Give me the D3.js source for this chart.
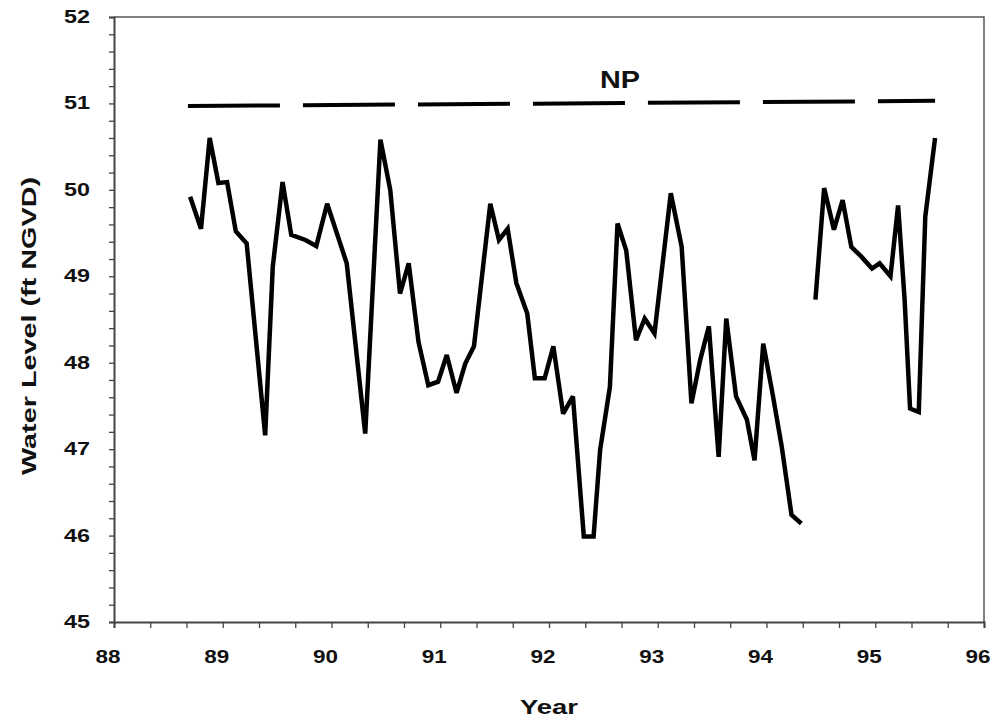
<!DOCTYPE html>
<html>
<head>
<meta charset="utf-8">
<script src="https://cdn.jsdelivr.net/npm/d3@7"></script>
<style>
  body { margin: 0; background: #fff; }
  text { font-family: "Liberation Sans", Arial, sans-serif; font-weight: bold; fill: #111; }
</style>
</head>
<body>
<div></div>
<script>
// decimal year (88 = 1988) and water level, null = gap in record
var years = [88.70, 88.80, 88.88, 88.96, 89.04, 89.12, 89.22, 89.39, 89.46, 89.55, 89.63, 89.76, 89.86, 89.96,
  90.14, 90.31, 90.45, 90.54, 90.63, 90.71, 90.80, 90.89, 90.98, 91.06, 91.15, 91.23, 91.31, 91.46, 91.54,
  91.62, 91.70, 91.80, 91.87, 91.96, 92.04, 92.13, 92.22, 92.32, 92.41, 92.47, 92.56, 92.63, 92.71, 92.80,
  92.88, 92.97, 93.12, 93.22, 93.31, 93.39, 93.47, 93.56, 93.63, 93.72, 93.82, 93.89, 93.97, 94.06, 94.14,
  94.23, 94.32, 94.38, 94.45, 94.53, 94.62, 94.70, 94.78, 94.87, 94.97, 95.04, 95.14, 95.21, 95.27, 95.32,
  95.40, 95.46, 95.55];
var levels = [49.92, 49.55, 50.60, 50.08, 50.09, 49.52, 49.38, 47.16, 49.11, 50.09, 49.48, 49.42, 49.35, 49.84,
  49.15, 47.18, 50.58, 50.00, 48.80, 49.15, 48.24, 47.74, 47.78, 48.09, 47.65, 47.99, 48.19, 49.84, 49.42,
  49.55, 48.92, 48.57, 47.82, 47.82, 48.19, 47.41, 47.61, 45.99, 45.99, 46.99, 47.72, 49.61, 49.30, 48.26,
  48.51, 48.34, 49.96, 49.34, 47.53, 48.03, 48.42, 46.91, 48.51, 47.61, 47.34, 46.87, 48.22, 47.61, 47.03,
  46.24, 46.14, null, 48.73, 50.02, 49.54, 49.88, 49.34, 49.23, 49.09, 49.15, 49.00, 49.82, 48.73, 47.47,
  47.43, 49.69, 50.60];

// NP reference line (start and end)
var npYears = [88.68, 95.55];
var npLevels = [50.97, 51.03];
var npLabel = "NP";

var xTicks = [88, 89, 90, 91, 92, 93, 94, 95, 96];
var yTicks = [45, 46, 47, 48, 49, 50, 51, 52];
var xTitle = "Year";
var yTitle = "Water Level (ft NGVD)";

var width = 1000, height = 726;
var margin = { top: 17, right: 16, bottom: 104, left: 114 };

var svg = d3.select("div").append("svg")
  .attr("width", width)
  .attr("height", height);

var x = d3.scaleLinear().domain([88, 96]).range([margin.left, width - margin.right]);
var y = d3.scaleLinear().domain([45, 52]).range([height - margin.bottom, margin.top]);

// frame (top and right)
svg.append("path")
  .attr("d", `M${x(88)},${y(52)}H${x(96)}V${y(45)}`)
  .attr("fill", "none")
  .attr("stroke", "#555")
  .attr("stroke-width", 1.5);

// x axis, minor ticks every 1/3 year
var xMinor = d3.range(0, 25).map((i) => 88 + i / 3);
var xAxis = svg.append("g")
  .attr("transform", `translate(0,${y(45)})`);
xAxis.call(d3.axisBottom(x).tickValues(xMinor).tickSize(6).tickFormat(""))
  .call((g) => g.select(".domain").attr("stroke", "#444").attr("stroke-width", 2));
xAxis.selectAll(".tick line").attr("stroke", "#444").attr("stroke-width", 1.3);
xAxis.selectAll("text.lbl")
  .data(xTicks)
  .join("text")
  .attr("class", "lbl")
  .attr("x", (d) => x(d) - 6)
  .attr("y", 41)
  .attr("text-anchor", "middle")
  .attr("font-size", 18)
  .attr("textLength", 25)
  .attr("lengthAdjust", "spacingAndGlyphs")
  .text((d) => d);

// y axis, minor ticks every 0.2
var yMinor = d3.range(0, 36).map((i) => 45 + i * 0.2);
var yAxis = svg.append("g")
  .attr("transform", `translate(${x(88)},0)`);
yAxis.call(d3.axisLeft(y).tickValues(yMinor).tickSize(5).tickFormat(""))
  .call((g) => g.select(".domain").attr("stroke", "#444").attr("stroke-width", 2));
yAxis.selectAll(".tick line").attr("stroke", "#444").attr("stroke-width", 1.3);
yAxis.selectAll("text.lbl")
  .data(yTicks)
  .join("text")
  .attr("class", "lbl")
  .attr("x", -24)
  .attr("y", (d) => y(d) + 6)
  .attr("text-anchor", "end")
  .attr("font-size", 18)
  .attr("textLength", 26)
  .attr("lengthAdjust", "spacingAndGlyphs")
  .text((d) => d);

// axis titles
svg.append("text")
  .attr("x", 549)
  .attr("y", 714)
  .attr("text-anchor", "middle")
  .attr("font-size", 21)
  .attr("textLength", 58)
  .attr("lengthAdjust", "spacingAndGlyphs")
  .text(xTitle);

svg.append("text")
  .attr("transform", `translate(36,326) rotate(-90)`)
  .attr("text-anchor", "middle")
  .attr("font-size", 20)
  .attr("textLength", 298)
  .attr("lengthAdjust", "spacingAndGlyphs")
  .text(yTitle);

// NP dashed line
svg.append("line")
  .attr("x1", x(npYears[0]))
  .attr("x2", x(npYears[1]))
  .attr("y1", y(npLevels[0]))
  .attr("y2", y(npLevels[1]))
  .attr("stroke", "#000")
  .attr("stroke-width", 4)
  .attr("stroke-dasharray", "92,23");

svg.append("text")
  .attr("x", 620)
  .attr("y", 88)
  .attr("text-anchor", "middle")
  .attr("font-size", 23)
  .attr("textLength", 40)
  .attr("lengthAdjust", "spacingAndGlyphs")
  .text(npLabel);

// water level series
var data = years.map((d, i) => ({ year: d, level: levels[i] }));
var line = d3.line()
  .defined((d) => d.level !== null)
  .x((d) => x(d.year))
  .y((d) => y(d.level));

svg.append("path")
  .datum(data)
  .attr("d", line)
  .attr("fill", "none")
  .attr("stroke", "#000")
  .attr("stroke-width", 4.5)
  .attr("stroke-linejoin", "miter")
  .attr("stroke-miterlimit", 3);
</script>
</body>
</html>
